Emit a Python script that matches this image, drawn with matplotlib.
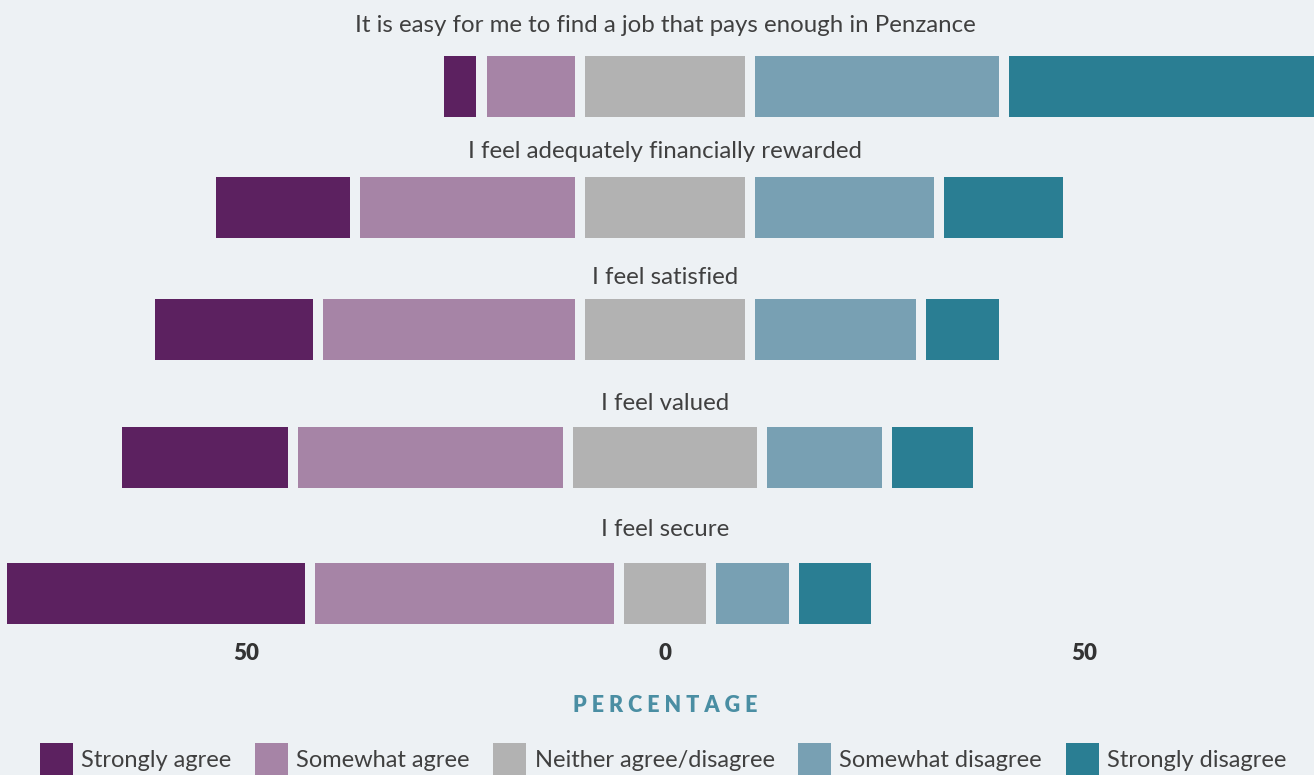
import numpy as np
import matplotlib.pyplot as plt
from matplotlib.patches import Patch

# survey statements (top to bottom)
questions = [
    "It is easy for me to find a job that pays enough in Penzance",
    "I feel adequately financially rewarded",
    "I feel satisfied",
    "I feel valued",
    "I feel secure",
]
responses = ["Strongly agree", "Somewhat agree", "Neither agree/disagree",
             "Somewhat disagree", "Strongly disagree"]

# percentages
strongly_agree = [3.9, 16.0, 18.9, 19.8, 35.6]
somewhat_agree = [10.6, 25.7, 30.1, 31.6, 35.7]
neither = [19.0, 19.0, 19.0, 22.0, 9.7]
somewhat_disagree = [29.2, 21.4, 19.2, 13.7, 8.8]
strongly_disagree = [36.5, 14.2, 8.8, 9.7, 8.5]

tick_vals = [-50, 0, 50]
tick_labels = ["50", "0", "50"]

colors = ["#5c2160", "#a684a6", "#b2b2b2", "#78a0b3", "#2a7e93"]
BG = "#edf1f4"
TXT = "#404040"
GAP = 1.2  # space between segments, in percent units

# facet layout in pixels (rows are not evenly spaced in the original)
W, H = 1314, 775
row_y = [86.5, 207.5, 329.5, 457.5, 593.5]
title_y = [25, 151, 278, 403, 529]
bar_h = 61
px_per_unit = 8.38
zero_px = 665

plt.rcParams['font.family'] = ['Lato', 'DejaVu Sans']

fig = plt.figure(figsize=(W / 100, H / 100), dpi=100, facecolor=BG)
ax = fig.add_axes([0, 0, 1, 1])
ax.set_facecolor(BG)
ax.set_xlim(-zero_px / px_per_unit, (W - zero_px) / px_per_unit)
ax.set_ylim(H, 0)
ax.axis('off')

sa = np.array(strongly_agree)
wa = np.array(somewhat_agree)
nn = np.array(neither)
wd = np.array(somewhat_disagree)
sd = np.array(strongly_disagree)

# neutral centred on zero, others stacked outward with gaps
n_left = -nn / 2
wa_left = n_left - GAP - wa
sa_left = wa_left - GAP - sa
wd_left = nn / 2 + GAP
sd_left = wd_left + wd + GAP

for vals, lefts, c in [(sa, sa_left, colors[0]), (wa, wa_left, colors[1]),
                       (nn, n_left, colors[2]), (wd, wd_left, colors[3]),
                       (sd, sd_left, colors[4])]:
    ax.barh(row_y, vals, left=lefts, height=bar_h, color=c, linewidth=0)

for q, ty in zip(questions, title_y):
    ax.text(0, ty, q, ha='center', va='center', fontsize=17.3, color=TXT)

for v, lab in zip(tick_vals, tick_labels):
    ax.text(v, 653, lab, ha='center', va='center', fontsize=16,
            fontweight='heavy', color='#333333')

ax.text(0, 706, "P E R C E N T A G E", ha='center', va='center', fontsize=15.5,
        fontweight='heavy', color='#4a8ea3')

handles = [Patch(facecolor=c, edgecolor='none') for c in colors]
fig.legend(handles, responses, loc='upper center',
           bbox_to_anchor=(0.5 + 6 / W, 1 - 743 / H),
           ncol=5, frameon=False, fontsize=17, handlelength=1.4, handleheight=1.7,
           handletextpad=0.35, columnspacing=1.0, borderpad=0, borderaxespad=0,
           labelcolor=TXT)

fig.savefig("out.png", dpi=100, facecolor=BG)
